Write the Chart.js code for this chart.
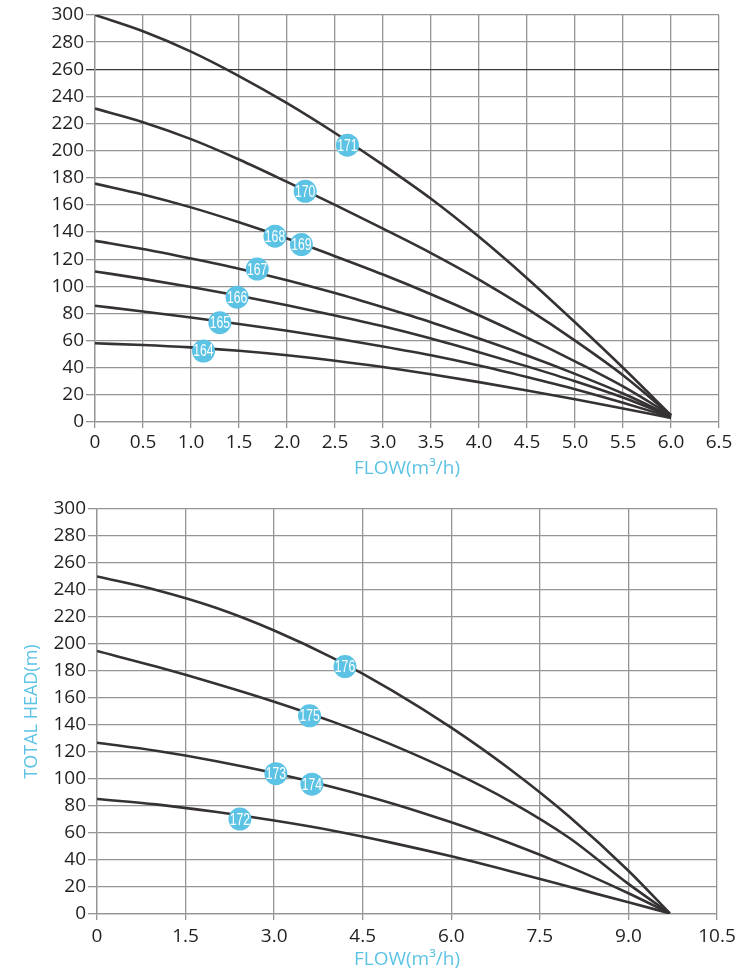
<!DOCTYPE html>
<html>
<head>
<meta charset="utf-8">
<script src="https://cdn.jsdelivr.net/npm/chart.js@4.4.1/dist/chart.umd.min.js"></script>
<style>
  html, body { margin: 0; padding: 0; background: #fff; }
  #wrap { position: relative; width: 756px; height: 970px; }
  canvas { position: absolute; left: 0; }
  #topChart { top: 0; }
  #bottomChart { top: 490px; }
</style>
</head>
<body>
<div id="wrap">
  <canvas id="topChart" width="756" height="480"></canvas>
  <canvas id="bottomChart" width="756" height="480"></canvas>
</div>
<script>
// top chart: flow (m3/h) vs head (m)
const flowTop = [0, 0.5, 1, 1.5, 2, 2.5, 3, 3.5, 4, 4.5, 5, 5.5, 6];
const head171 = [300, 288, 273, 255, 235, 213, 189.5, 164.5, 136.5, 106, 73.5, 40, 5];
const head170 = [231, 221, 208.5, 193.5, 177, 160, 142.5, 124.5, 105, 83.5, 60, 34.5, 5];
const head168 = [175.7, 167.7, 158.2, 147.2, 135.2, 122.2, 108.7, 94.2, 78.7, 62.2, 44.7, 26.2, 5];
const head167 = [133.5, 127.5, 120.5, 113, 104.5, 95, 84.5, 73.5, 61.5, 49, 35.5, 21, 4.5];
const head166 = [111, 105.5, 99.5, 93, 86, 78.5, 70.5, 61.5, 51.5, 41, 30, 18, 4];
const head165 = [85.7, 81.5, 77, 72.2, 67.2, 61.7, 55.7, 49.2, 41.7, 33.2, 24.2, 14.2, 3.5];
const head164 = [58, 56.8, 55, 52.5, 49.2, 45.2, 40.5, 35.2, 29.4, 23.2, 16.7, 10, 3];

const topNames = ['171', '170', '168', '169', '167', '166', '165', '164'];
const topNameX = [2.63, 2.19, 1.875, 2.15, 1.69, 1.48, 1.30, 1.13];
const topNameY = [204, 170, 137, 130.8, 112.7, 92, 73.2, 52.3];

// bottom chart
const flowBottom = [0, 1, 2, 3, 4, 5, 6, 7, 8, 9, 9.7];
const head176 = [250, 240, 227, 210, 189.5, 165.5, 138, 107, 72, 32, 0.5];
const head175 = [194.8, 183.3, 170.8, 157.3, 142.3, 125.3, 105.8, 83.3, 56.3, 22.3, 0.5];
const head173 = [126.9, 120.9, 113.4, 104.4, 93.9, 81.9, 67.9, 52.4, 34.9, 15.4, 0.5];
const head172 = [85.2, 81.2, 75.7, 69.2, 61.7, 52.7, 42.7, 31.7, 20.2, 8.7, 0.5];

const bottomNames = ['176', '175', '173', '174', '172'];
const bottomNameX = [4.2, 3.6, 3.03, 3.64, 2.42];
const bottomNameY = [183.3, 146.8, 103.9, 96.2, 70.3];

const BLUE = '#5cc3e5';
const LINE = '#363233';
const GRID = '#959595';
const TEXT = '#231f20';

Chart.defaults.font.family = "'Open Sans', sans-serif";

function points(xs, ys) {
  return xs.map((x, i) => ({ x: x, y: ys[i] }));
}

function curve(xs, ys) {
  return {
    data: points(xs, ys),
    showLine: true,
    borderColor: LINE,
    borderWidth: 2.6,
    pointRadius: 0,
    cubicInterpolationMode: 'monotone',
    order: 1,
  };
}

function markers(xs, ys) {
  return {
    data: points(xs, ys),
    showLine: false,
    pointRadius: 11.5,
    pointBackgroundColor: BLUE,
    pointBorderWidth: 0,
    order: 0,
  };
}

// white numbers inside the blue circles (squeezed like a condensed face)
function markerText(names) {
  return {
    id: 'markerText',
    afterDatasetsDraw(chart) {
      const meta = chart.getDatasetMeta(0);
      const ctx = chart.ctx;
      meta.data.forEach((pt, i) => {
        ctx.save();
        ctx.translate(pt.x, pt.y + 1);
        ctx.scale(0.76, 1);
        ctx.fillStyle = '#fff';
        ctx.font = '16px "Liberation Sans", Arial, sans-serif';
        ctx.textAlign = 'center';
        ctx.textBaseline = 'middle';
        ctx.fillText(names[i], 0, 0);
        ctx.restore();
      });
    },
  };
}

function fmt(v) {
  return v === 0 ? '0' : v.toFixed(1);
}

// top chart
new Chart(document.getElementById('topChart'), {
  type: 'scatter',
  data: {
    datasets: [
      markers(topNameX, topNameY),
      curve(flowTop, head171),
      curve(flowTop, head170),
      curve(flowTop, head168),
      curve(flowTop, head167),
      curve(flowTop, head166),
      curve(flowTop, head165),
      curve(flowTop, head164),
    ],
  },
  options: {
    responsive: false,
    animation: false,
    devicePixelRatio: 1,
    layout: { padding: { top: 15, right: 37, left: 0, bottom: 0 } },
    plugins: { legend: { display: false }, tooltip: { enabled: false } },
    scales: {
      x: {
        min: 0,
        max: 6.5,
        afterFit: (scale) => { scale.height = 58; },
        ticks: { stepSize: 0.5, color: TEXT, font: { size: 19 }, padding: 3, callback: fmt },
        grid: { color: GRID, lineWidth: 1.3, tickLength: 6 },
        border: { color: GRID, width: 1.3 },
        title: {
          display: true,
          text: 'FLOW(m³/h)',
          color: BLUE,
          font: { size: 19 },
          padding: { top: 0, bottom: 0 },
        },
      },
      y: {
        min: 0,
        max: 300,
        afterFit: (scale) => { scale.width = 95; },
        ticks: { stepSize: 20, color: TEXT, font: { size: 19 }, padding: 2 },
        grid: {
          color: (c) => (c.tick && c.tick.value === 260 ? '#3a3a3a' : GRID),
          lineWidth: 1.3,
          tickLength: 9,
        },
        border: { color: GRID, width: 1.3 },
      },
    },
  },
  plugins: [markerText(topNames)],
});

// bottom chart
new Chart(document.getElementById('bottomChart'), {
  type: 'scatter',
  data: {
    datasets: [
      markers(bottomNameX, bottomNameY),
      curve(flowBottom, head176),
      curve(flowBottom, head175),
      curve(flowBottom, head173),
      curve(flowBottom, head172),
    ],
  },
  options: {
    responsive: false,
    animation: false,
    devicePixelRatio: 1,
    layout: { padding: { top: 19, right: 39, left: 0, bottom: 0 } },
    plugins: { legend: { display: false }, tooltip: { enabled: false } },
    scales: {
      x: {
        min: 0,
        max: 10.5,
        afterFit: (scale) => { scale.height = 56; },
        ticks: { stepSize: 1.5, color: TEXT, font: { size: 19 }, padding: 5, callback: fmt },
        grid: { color: GRID, lineWidth: 1.3, tickLength: 6 },
        border: { color: GRID, width: 1.3 },
        title: {
          display: true,
          text: 'FLOW(m³/h)',
          color: BLUE,
          font: { size: 19 },
          padding: { top: 0, bottom: -1 },
        },
      },
      y: {
        min: 0,
        max: 300,
        afterFit: (scale) => { scale.width = 97; },
        ticks: { stepSize: 20, color: TEXT, font: { size: 19 }, padding: 2 },
        grid: { color: GRID, lineWidth: 1.3, tickLength: 9 },
        border: { color: GRID, width: 1.3 },
        title: {
          display: true,
          text: 'TOTAL HEAD(m)',
          color: BLUE,
          font: { size: 18 },
          padding: { top: 21, bottom: 0 },
        },
      },
    },
  },
  plugins: [markerText(bottomNames)],
});
</script>
</body>
</html>
